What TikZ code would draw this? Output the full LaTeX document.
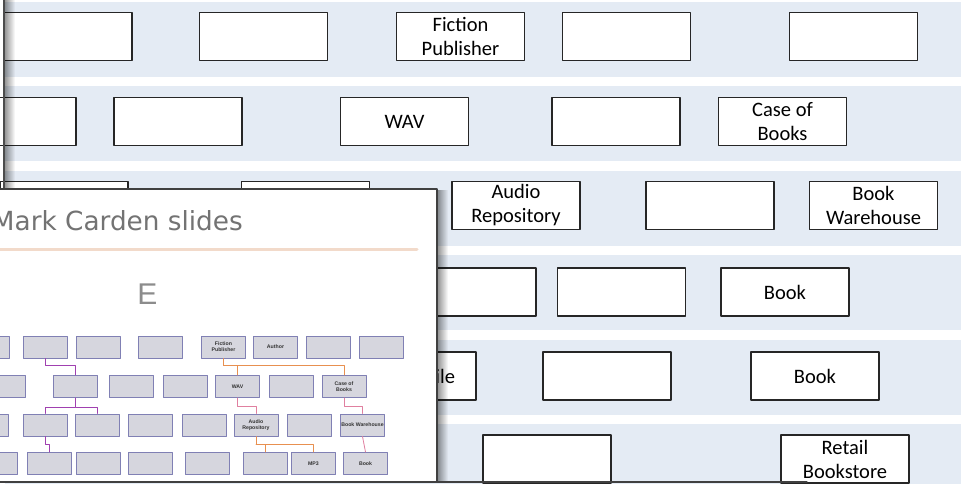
\documentclass[tikz,border=0pt]{standalone}
\usepackage{fontspec}
\setmainfont{Carlito}
\newfontfamily\slidefont{Liberation Sans}
\newfontfamily\titlefont{DejaVu Sans}
\definecolor{bandblue}{HTML}{E4EBF4}
\definecolor{edgegray}{HTML}{262626}
\definecolor{minifill}{HTML}{D6D6DE}
\definecolor{minidraw}{HTML}{8080B4}
\definecolor{linkpurple}{HTML}{A040B0}
\definecolor{linkorange}{HTML}{E89050}
\definecolor{linkpink}{HTML}{E080A0}
\definecolor{rulepeach}{HTML}{F2DACA}
\tikzset{
  slot/.style={draw=edgegray, line width=1.3pt, fill=white, minimum width=128pt,
    minimum height=48pt, inner sep=0pt, align=center, font=\fontsize{20.5}{24}\selectfont},
  minislot/.style={draw=minidraw, line width=1pt, fill=minifill, minimum width=44pt,
    minimum height=22pt, inner sep=0pt, align=center, text=black!80,
    font=\slidefont\bfseries\fontsize{5.2}{6.2}\selectfont},
  minilink/.style={line width=0.8pt}
}
\begin{document}
\begin{tikzpicture}[line join=round,line cap=round,x=1pt,y=-1pt]
    \useasboundingbox (0,0) rectangle (961,484);
    \clip (0,0) rectangle (961,484);
    \fill[white] (0,0) rectangle (961,484);

    % Row bands
    \foreach \row in {0,...,5}
      \fill[bandblue] (5,{2+84.4*\row}) rectangle (961,{77+84.4*\row});

    % Row 1
    \node[slot] (r1a) at (68,36.5) {};
    \node[slot] (r1b) at (263.5,36.5) {};
    \node[slot] (r1c) at (460.5,36.5) {Fiction\\Publisher};
    \node[slot] (r1d) at (626.5,36.5) {};
    \node[slot] (r1e) at (853.5,36.5) {};

    % Row 2
    \node[slot] (r2a) at (12,121.5) {};
    \node[slot] (r2b) at (178,121.5) {};
    \node[slot] (r2c) at (404.5,121.5) {WAV};
    \node[slot] (r2d) at (616,121.5) {};
    \node[slot] (r2e) at (782.5,121.5) {Case of\\Books};

    % Row 3
    \node[slot] (r3a) at (64,205.5) {};
    \node[slot] (r3b) at (305.5,205.5) {};
    \node[slot] (r3c) at (516,205.5) {Audio\\Repository};
    \node[slot] (r3d) at (710,205.5) {};
    \node[slot] (r3e) at (873.5,205.5) {Book\\Warehouse};

    % Row 4
    \node[slot] (r4a) at (472,292) {};
    \node[slot] (r4b) at (621.5,292) {};
    \node[slot] (r4c) at (785,292) {Book};

    % Row 5
    \node[slot, text width=86pt, align=right] (r5a) at (412,376) {File};
    \node[slot] (r5b) at (607,376) {};
    \node[slot] (r5c) at (815,376) {Book};

    % Row 6
    \node[slot] (r6a) at (547,459) {};
    \node[slot] (r6b) at (845,459) {Retail\\Bookstore};

    % Left edge and its shadow
    \foreach \i [evaluate=\i as \op using 0.4-0.04*\i] in {0,...,9}
      \fill[black, opacity=\op] ({5+\i},0) rectangle ({6+\i},189);
    \draw[black!70, line width=1.3pt] (4,0) -- (4,189);

    % Slide thumbnail
    \fill[white] (0,189) rectangle (437,482);
    \begin{scope}
      \clip (0,189) rectangle (437,482);
      \node[text=black!55, inner sep=0pt, anchor=base east,
        font=\titlefont\fontsize{26.3}{30}\selectfont] (slidetitle) at (243,230) {Mark Carden slides};
      \draw[rulepeach, line width=3pt] (0,249) -- (417,249);
      \node[text=black!45, inner sep=0pt, font=\slidefont\fontsize{30}{32}\selectfont]
        (slideletter) at (147.5,294.5) {E};

      % Thumbnail boxes
      \foreach \x/\txt [count=\i] in {-13/{},45/{},98/{},160.5/{},223.5/{Fiction\\Publisher},275.5/{Author},328/{},381.5/{}}
        \node[minislot] (A\i) at (\x,347) {\txt};
      \foreach \x/\txt [count=\i] in {3/{},75/{},131/{},185/{},237.5/{WAV},291.5/{},344/{Case of\\Books}}
        \node[minislot] (B\i) at (\x,386.5) {\txt};
      \foreach \x/\txt [count=\i] in {-14/{},45.5/{},97.5/{},150.5/{},204/{},256/{Audio\\Repository},309.5/{},362.5/{Book Warehouse}}
        \node[minislot] (C\i) at (\x,425) {\txt};
      \foreach \x/\txt [count=\i] in {-5/{},49/{},98/{},150.5/{},207/{},265.5/{},313.5/{MP3},365.5/{Book}}
        \node[minislot] (D\i) at (\x,463.5) {\txt};

      % Thumbnail links
      \draw[linkpurple, minilink] (A2.south) -- ++(0,7) -| (B2.north);
      \draw[linkpurple, minilink] (B2.south) -- ++(0,9) -| (C3.north);
      \draw[linkpurple, minilink] (B2.south) ++(0,9) -| (C2.north);
      \draw[linkpurple, minilink] (C2.south) -- ++(0,8) -| (D2.north);
      \draw[linkorange, minilink] (A5.south) -- ++(0,7) -| (B7.north);
      \draw[linkorange, minilink] (A5.south) ++(0,7) -| (B5.north);
      \draw[linkpink, minilink] (B5.south) -- ++(0,8) -| (C6.north);
      \draw[linkpink, minilink] (B7.south) -- ++(0,8) -| (C8.north);
      \draw[linkorange, minilink] (C6.south) -- ++(0,8) -| (D7.north);
      \draw[linkorange, minilink] (C6.south) ++(0,8) -| (D6.north);
      \draw[linkpink, minilink] (C8.south) -- (D8.north);
    \end{scope}
    \draw[black!75, line width=1.3pt] (0,189) -- (437,189) -- (437,482);
    \foreach \i [evaluate=\i as \op using 0.4-0.04*\i] in {0,...,11}
      \fill[black, opacity=\op] ({438+\i},190) rectangle ({439+\i},482);

    % Bottom edge
    \draw[black!75, line width=1.2pt] (0,482) -- (807,482);
\end{tikzpicture}
\end{document}
